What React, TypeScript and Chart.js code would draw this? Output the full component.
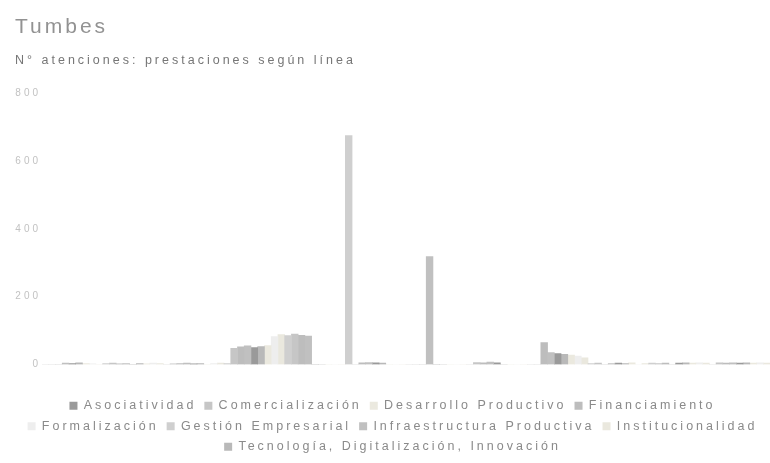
import React, { useEffect, useRef } from "react";
import { Chart, registerables } from "chart.js";

Chart.register(...registerables);

// ---- data ----
const categories = ["Ene", "Feb", "Mar", "Abr", "May", "Jun", "Jul", "Ago", "Set", "Oct", "Nov", "Dic"];

const seriesNames = [
  "Asociatividad",
  "Comercialización",
  "Desarrollo Productivo",
  "Financiamiento",
  "Formalización",
  "Gestión Empresarial",
  "Infraestructura Productiva",
  "Institucionalidad",
  "Tecnología, Digitalización, Innovación",
];

const asociatividad = [3, 0, 2, 50, 0, 5, 0, 5, 32, 4, 4, 4];
const comercializacion = [0, 4, 2, 48, 90, 0, 0, 6, 0, 4, 3, 5];
const desarrolloProductivo = [3, 2, 0, 56, 0, 0, 0, 0, 28, 5, 4, 4];
const financiamiento = [0, 2, 3, 52, 86, 5, 0, 5, 65, 0, 4, 4];
const formalizacion = [2, 4, 3, 82, 0, 0, 0, 0, 25, 0, 5, 5];
const gestionEmpresarial = [0, 3, 0, 3, 85, 675, 0, 0, 0, 3, 4, 0];
const infraestructura = [4, 3, 4, 55, 84, 6, 318, 7, 35, 3, 0, 5];
const institucionalidad = [0, 3, 4, 88, 0, 0, 0, 0, 20, 3, 4, 4];
const tecnologia = [5, 3, 3, 53, 0, 4, 0, 0, 30, 3, 5, 5];

const yTicks = [0, 200, 400, 600, 800];

// ---- styles ----
const seriesValues = [
  asociatividad,
  comercializacion,
  desarrolloProductivo,
  financiamiento,
  formalizacion,
  gestionEmpresarial,
  infraestructura,
  institucionalidad,
  tecnologia,
];
const seriesColors = [
  "#9a9a9a",
  "#c6c6c6",
  "#ebe9df",
  "#bdbdbd",
  "#eeeeee",
  "#cfcfcf",
  "#c0c0c0",
  "#eae8de",
  "#b9b9b9",
];
const groupOrder = [4, 1, 6, 2, 7, 0, 3, 8, 5];

const spacingPlugin = {
  id: "letterSpacing",
  beforeUpdate(chart: any) {
    chart.ctx.letterSpacing = "3px";
  },
  beforeDraw(chart: any) {
    chart.ctx.letterSpacing = "3px";
  },
};

export default function App() {
  const ref = useRef<HTMLCanvasElement | null>(null);

  useEffect(() => {
    if (!ref.current) return;
    Chart.defaults.font.family = "'Liberation Sans', Arial, sans-serif";
    const chart = new Chart(ref.current, {
      type: "bar",
      data: {
        labels: categories,
        datasets: seriesNames.map((name, i) => ({
          label: name,
          data: seriesValues[i],
          backgroundColor: seriesColors[i],
          borderWidth: 0,
          order: groupOrder[i],
        })),
      },
      plugins: [spacingPlugin],
      options: {
        animation: false,
        responsive: true,
        maintainAspectRatio: false,
        layout: { padding: { left: 15, right: 0, top: 0, bottom: 0 } },
        datasets: { bar: { categoryPercentage: 1, barPercentage: 1 } },
        scales: {
          x: {
            grid: { display: false, drawTicks: false },
            border: { display: false },
            ticks: { display: false },
            afterFit: (s: any) => {
              s.height = 27;
            },
          },
          y: {
            min: 0,
            max: 800,
            grid: { display: false, drawTicks: false },
            border: { display: false },
            ticks: { color: "#c2c2c2", font: { size: 10 }, padding: 1 },
            afterBuildTicks: (s: any) => {
              s.ticks = yTicks.map((v) => ({ value: v }));
            },
            afterFit: (s: any) => {
              s.width = 27;
            },
          },
        },
        plugins: {
          title: {
            display: true,
            text: "Tumbes",
            align: "start",
            color: "#929292",
            font: { size: 21, weight: "normal" },
            padding: { top: 15, bottom: 8 },
          },
          subtitle: {
            display: true,
            text: "N° atenciones: prestaciones según línea",
            align: "start",
            color: "#767676",
            font: { size: 12.5 },
            padding: { top: 5, bottom: 25 },
          },
          legend: {
            position: "bottom",
            labels: {
              boxWidth: 8,
              boxHeight: 8,
              padding: 8,
              color: "#8a8a8a",
              font: { size: 12.5 },
              sort: (a: any, b: any) => a.datasetIndex - b.datasetIndex,
            },
          },
          tooltip: { enabled: false },
        },
      } as any,
    });
    return () => chart.destroy();
  }, []);

  return (
    <div style={{ position: "absolute", left: 0, top: 0, width: 770, height: 463 }}>
      <canvas ref={ref} />
    </div>
  );
}
